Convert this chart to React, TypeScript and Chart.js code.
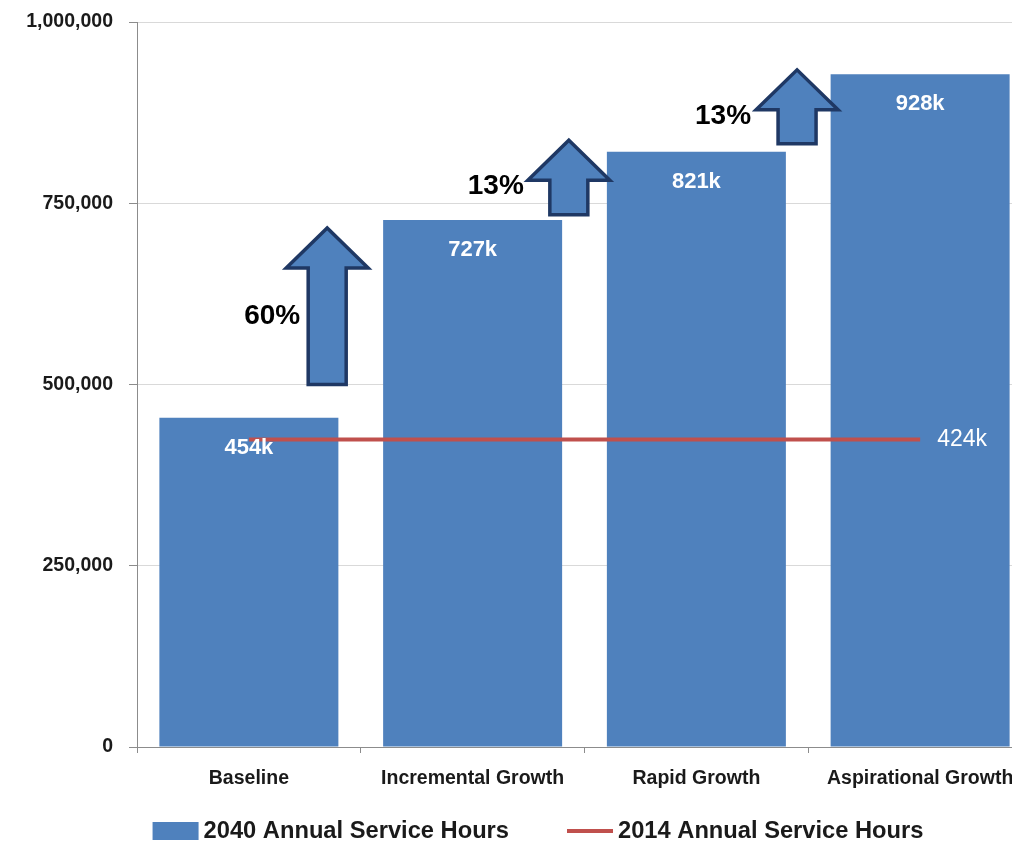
import React, { useEffect, useRef } from "react";
import { Chart, registerables } from "chart.js";

Chart.register(...registerables);

const categories = ["Baseline", "Incremental Growth", "Rapid Growth", "Aspirational Growth"];
const hours2040 = [454000, 727000, 821000, 928000];
const hours2014 = [424000, 424000, 424000, 424000];
const seriesNames = ["2040 Annual Service Hours", "2014 Annual Service Hours"];

// growth arrows: position in category units, base value, tip value, label
const arrowCategoryPos = [0.35, 1.43, 2.45];
const arrowBase = [500000, 734000, 832000];
const arrowTip = [716000, 837000, 934000];
const arrowLabels = ["60%", "13%", "13%"];
const arrowLabelValues = [594000, 774000, 870000];

// styles
const FONT = '"Liberation Sans", Arial, sans-serif';
const BAR_COLOR = "#4f81bd";
const LINE_COLOR = "#c0504d";
const ARROW_STROKE = "#1f3864";
const TEXT_COLOR = "#1a1a1a";
const AXIS_COLOR = "#8c8c8c";
const GRID_COLOR = "#d9d9d9";
const arrowLabelDx = [-27, -45, -46];

const fmtK = (v: number) => Math.round(v / 1000) + "k";

const overlayPlugin = {
  id: "overlay",
  afterDatasetsDraw(chart: any) {
    const ctx = chart.ctx as CanvasRenderingContext2D;
    const xs = chart.scales.x;
    const ys = chart.scales.y;
    ctx.save();

    // arrows
    const pxAt = (p: number) => {
      const i = Math.floor(p);
      const f = p - i;
      const a = xs.getPixelForValue(i);
      const b = xs.getPixelForValue(i + 1);
      return a + f * (b - a);
    };
    arrowCategoryPos.forEach((p, i) => {
      const cx = pxAt(p);
      const yb = ys.getPixelForValue(arrowBase[i]);
      const yt = ys.getPixelForValue(arrowTip[i]);
      const hw = 41, sw = 19, hl = 40;
      ctx.beginPath();
      ctx.moveTo(cx - sw, yb);
      ctx.lineTo(cx - sw, yt + hl);
      ctx.lineTo(cx - hw, yt + hl);
      ctx.lineTo(cx, yt);
      ctx.lineTo(cx + hw, yt + hl);
      ctx.lineTo(cx + sw, yt + hl);
      ctx.lineTo(cx + sw, yb);
      ctx.closePath();
      ctx.fillStyle = BAR_COLOR;
      ctx.fill();
      ctx.lineWidth = 3.5;
      ctx.lineJoin = "miter";
      ctx.strokeStyle = ARROW_STROKE;
      ctx.stroke();

      ctx.font = `bold 28px ${FONT}`;
      ctx.fillStyle = "#000";
      ctx.textAlign = "right";
      ctx.textBaseline = "middle";
      ctx.fillText(arrowLabels[i], cx + arrowLabelDx[i], ys.getPixelForValue(arrowLabelValues[i]));
    });

    // bar value labels
    const barMeta = chart.getDatasetMeta(0);
    ctx.font = `bold 22px ${FONT}`;
    ctx.fillStyle = "#ffffff";
    ctx.textAlign = "center";
    ctx.textBaseline = "middle";
    barMeta.data.forEach((el: any, i: number) => {
      ctx.fillText(fmtK(hours2040[i]), el.x, el.y + 30);
    });

    // line end label
    const lineMeta = chart.getDatasetMeta(1);
    const last = lineMeta.data[lineMeta.data.length - 1];
    ctx.font = `23px ${FONT}`;
    ctx.textAlign = "left";
    ctx.fillText(fmtK(hours2014[hours2014.length - 1]), last.x + 17, last.y);

    // legend
    const ly = 831;
    const centerX = 538;
    ctx.font = `bold 23.7px ${FONT}`;
    const w1 = ctx.measureText(seriesNames[0]).width;
    const w2 = ctx.measureText(seriesNames[1]).width;
    const box = 46, gap = 5, itemGap = 58;
    const total = box + gap + w1 + itemGap + box + gap + w2;
    let x = centerX - total / 2;
    ctx.fillStyle = BAR_COLOR;
    ctx.fillRect(x, ly - 9, box, 18);
    x += box + gap;
    ctx.fillStyle = TEXT_COLOR;
    ctx.textAlign = "left";
    ctx.textBaseline = "middle";
    ctx.fillText(seriesNames[0], x, ly);
    x += w1 + itemGap;
    ctx.strokeStyle = LINE_COLOR;
    ctx.lineWidth = 4;
    ctx.beginPath();
    ctx.moveTo(x, ly);
    ctx.lineTo(x + box, ly);
    ctx.stroke();
    x += box + gap;
    ctx.fillText(seriesNames[1], x, ly);

    ctx.restore();
  },
};

export default function App() {
  const ref = useRef<HTMLCanvasElement | null>(null);
  useEffect(() => {
    if (!ref.current) return;
    const tickFont = { family: FONT, size: 19.5, weight: "bold" as const };
    const chart = new Chart(ref.current, {
      type: "bar",
      data: {
        labels: categories,
        datasets: [
          {
            type: "bar",
            label: seriesNames[0],
            data: hours2040,
            backgroundColor: BAR_COLOR,
            barPercentage: 0.8,
            categoryPercentage: 1,
            order: 2,
          },
          {
            type: "line",
            label: seriesNames[1],
            data: hours2014,
            borderColor: LINE_COLOR,
            backgroundColor: LINE_COLOR,
            borderWidth: 4,
            pointRadius: 0,
            order: 1,
          } as any,
        ],
      },
      options: {
        responsive: false,
        animation: false,
        layout: { padding: { top: 22, right: 8, left: 0, bottom: 0 } },
        plugins: { legend: { display: false }, tooltip: { enabled: false } },
        scales: {
          x: {
            grid: { drawOnChartArea: false, tickLength: 6, color: AXIS_COLOR, offset: true },
            border: { color: AXIS_COLOR },
            ticks: { font: tickFont, color: TEXT_COLOR, padding: 14, maxRotation: 0, autoSkip: false },
            afterFit: (s: any) => {
              s.height = 844 - 747;
            },
          },
          y: {
            min: 0,
            max: 1000000,
            ticks: {
              stepSize: 250000,
              font: tickFont,
              color: TEXT_COLOR,
              padding: 16,
              callback: (v: any) => Number(v).toLocaleString("en-US"),
            },
            grid: { color: GRID_COLOR, tickColor: AXIS_COLOR, tickLength: 8 },
            border: { color: AXIS_COLOR },
            afterFit: (s: any) => {
              s.width = 137;
              s.paddingTop = 12;
              s.paddingBottom = 12;
            },
          },
        },
      },
      plugins: [overlayPlugin],
    });
    return () => chart.destroy();
  }, []);

  return (
    <div style={{ position: "absolute", left: 0, top: 0, width: 1012, height: 844, overflow: "hidden", background: "#fff" }}>
      <canvas ref={ref} width={1040} height={844} style={{ display: "block" }} />
    </div>
  );
}
